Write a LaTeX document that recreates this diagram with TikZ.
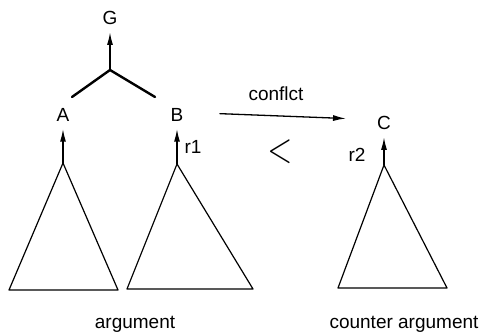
\documentclass[tikz,border=0pt]{standalone}
\usepackage{fontspec}
\setmainfont{Liberation Sans}
\usetikzlibrary{arrows.meta, positioning, calc}
\tikzset{every node/.style={font=\fontsize{19}{22}\selectfont}, every path/.style={line cap=round, line join=round}, >={Latex[length=13pt, width=6pt]}}

\begin{document}
\begin{tikzpicture}[
    x=1pt, y=-1pt,
    claim/.style={inner sep=7pt},
    support/.style={->, line width=1.5pt},
    branch/.style={line width=2.4pt},
    subtree/.style={line width=1.2pt}
]
    \useasboundingbox (0,0) rectangle (480,336);

    % conclusion, premises and the attacking claim
    \node [claim] (G) at (110,18) {G};
    \node [claim] (A) at (63,115) {A};
    \node [claim] (B) at (177,115) {B};
    \node [claim] (C) at (384,123) {C};

    % fork joining A and B into G
    \coordinate (fork) at (110,70);
    \coordinate (forkA) at (72,97);
    \coordinate (forkB) at (155,97);
    \draw [branch] (forkA) -- (fork) -- (forkB);
    \draw [support] (fork) -- (G);

    % sub-arguments below each claim
    \coordinate (topA) at (63,163);
    \coordinate (topB) at (177,164);
    \coordinate (topC) at (384,165);
    \draw [subtree] (topA) -- ++(-54,127) -- ++(109,0) -- cycle;
    \draw [subtree] (topB) -- ++(-50,125) -- ++(126,0) -- cycle;
    \draw [subtree] (topC) -- ++(-46,123) -- ++(109,0) -- cycle;
    \draw [support] (topA) -- (A);
    \draw [support] (topB) -- (B);
    \draw [support] (topC) -- (C);

    % rules and their ordering
    \node (r1) at (193,147) {r1};
    \node (r2) at (357,155) {r2};
    \node (less) at (280,152) {\scalebox{1.9}[2.5]{$<$}};

    % attack
    \draw [->, line width=1.3pt, shorten <=43pt, shorten >=38pt]
        ([yshift=3pt]B.center) -- ([yshift=3pt]C.center);
    \node (conflict) at (276,94) {conflct};

    % captions
    \node (arg) at (135,324) {argument};
    \node (counter) at (404,324) {counter argument};
\end{tikzpicture}
\end{document}
